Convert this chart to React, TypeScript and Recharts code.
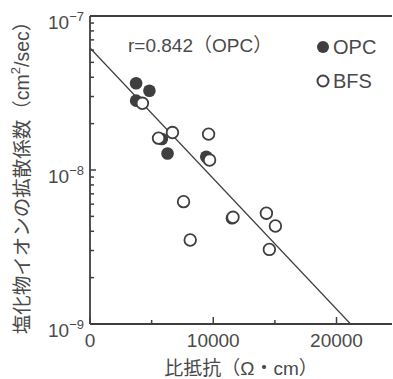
import { ScatterChart, Scatter, XAxis, YAxis, ReferenceLine, Legend } from "recharts"

// OPC (filled) and BFS (open) specimens: resistivity (Ω·cm) vs Cl- diffusion coefficient (cm²/sec)
const seriesNames = ["OPC", "BFS"]

const opcResistivity = [3740, 4820, 3740, 5830, 6290, 9430, 11520]
const opcDiffusion = [3.66e-8, 3.27e-8, 2.82e-8, 1.59e-8, 1.28e-8, 1.22e-8, 4.86e-9]

const bfsResistivity = [4250, 5560, 6690, 9620, 9700, 7590, 8130, 11600, 14310, 15040, 14550]
const bfsDiffusion = [2.71e-8, 1.61e-8, 1.75e-8, 1.71e-8, 1.16e-8, 6.23e-9, 3.51e-9, 4.93e-9, 5.24e-9, 4.33e-9, 3.05e-9]

// regression line (OPC), end points
const fitResistivity = [0, 21140]
const fitDiffusion = [6.2e-8, 1e-9]

const xTicks = [0, 5000, 10000, 15000, 20000]
const xLabelTicks = [0, 10000, 20000]
const yTicks = [
  1e-9, 2e-9, 3e-9, 4e-9, 5e-9, 6e-9, 7e-9, 8e-9, 9e-9,
  1e-8, 2e-8, 3e-8, 4e-8, 5e-8, 6e-8, 7e-8, 8e-8, 9e-8,
  1e-7,
]

const ink = "#3f3f3f"
const textInk = "#4a4a4a"
const font = "'Liberation Sans', Arial, 'Noto Sans CJK JP', sans-serif"

const opcData = opcResistivity.map((x, i) => ({ x, y: opcDiffusion[i] }))
const bfsData = bfsResistivity.map((x, i) => ({ x, y: bfsDiffusion[i] }))

const isDecade = (v: number) => Math.abs(Math.log10(v) - Math.round(Math.log10(v))) < 1e-6

const YTick = ({ x, y, payload }: any) => {
  const v = payload.value
  const major = isDecade(v)
  const exp = Math.round(Math.log10(v))
  return (
    <g>
      <line x1={x} x2={x + (major ? 6 : 4)} y1={y} y2={y} stroke={ink} strokeWidth={1.5} />
      {major && (
        <text x={x - 6} y={y + 13} textAnchor="end" fontSize={19} fill={textInk} fontFamily={font}>
          10<tspan dy={-8} fontSize={13}>{`−${-exp}`}</tspan>
        </text>
      )}
    </g>
  )
}

const XTick = ({ x, y, payload }: any) => {
  const major = xLabelTicks.includes(payload.value)
  return (
    <g>
      <line x1={x} x2={x} y1={y} y2={y - (major ? 7 : 4)} stroke={ink} strokeWidth={1.5} />
      {major && (
        <text x={x} y={y + 23} textAnchor="middle" fontSize={19} fill={textInk} fontFamily={font}>
          {payload.value}
        </text>
      )}
    </g>
  )
}

const YLabel = ({ viewBox }: any) => {
  const cx = viewBox.x + 22
  const cy = viewBox.y + viewBox.height / 2 + 3
  return (
    <text
      x={cx}
      y={cy}
      transform={`rotate(-90, ${cx}, ${cy})`}
      textAnchor="middle"
      dominantBaseline="central"
      fontSize={19.5}
      fill={textInk}
      fontFamily={font}
    >
      塩化物イオンの拡散係数（cm<tspan dy={-7} fontSize={13}>2</tspan><tspan dy={7}>/sec）</tspan>
    </text>
  )
}

const XLabel = ({ viewBox }: any) => (
  <text
    x={viewBox.x + viewBox.width / 2}
    y={viewBox.y + 44}
    textAnchor="middle"
    dominantBaseline="central"
    fontSize={19}
    fill={textInk}
    fontFamily={font}
  >
    比抵抗（Ω・cm）
  </text>
)

const LegendBox = ({ payload }: any) => {
  const entries = [...(payload || [])].sort(
    (a: any, b: any) => seriesNames.indexOf(a.value) - seriesNames.indexOf(b.value)
  )
  return (
    <div style={{ fontFamily: font, fontSize: 20, color: textInk }}>
      {entries.map((entry: any) => (
        <div key={entry.value} style={{ display: "flex", alignItems: "center", height: 34 }}>
          <svg width={14} height={14} style={{ marginRight: 3 }}>
            {entry.value === "OPC" ? (
              <circle cx={7} cy={7} r={6} fill={ink} />
            ) : (
              <circle cx={7} cy={7} r={5.5} fill="#fff" stroke={ink} strokeWidth={2} />
            )}
          </svg>
          <span>{entry.value}</span>
        </div>
      ))}
    </div>
  )
}

export default function App() {
  return (
    <div style={{ position: "absolute", left: 0, top: 0, width: 393, height: 379, background: "#fff" }}>
      <ScatterChart
        width={393}
        height={379}
        margin={{ top: 16, right: 1, bottom: 0, left: 0 }}
        style={{ fontFamily: font }}
      >
        <XAxis
          type="number"
          dataKey="x"
          domain={[0, 24500]}
          ticks={xTicks}
          interval={0}
          tickSize={0}
          tickMargin={0}
          tick={<XTick />}
          height={55}
          axisLine={{ stroke: ink, strokeWidth: 1.8 }}
          label={{ content: <XLabel /> }}
        />
        <YAxis
          type="number"
          dataKey="y"
          scale="log"
          domain={[1e-9, 1e-7]}
          ticks={yTicks}
          interval={0}
          tickSize={0}
          tickMargin={0}
          tick={<YTick />}
          width={90}
          axisLine={{ stroke: ink, strokeWidth: 1.8 }}
          label={{ content: <YLabel /> }}
        />
        <ReferenceLine y={1e-7} stroke={ink} strokeWidth={1.8} />
        <Scatter
          name={seriesNames[0]}
          data={opcData}
          isAnimationActive={false}
          shape={(p: any) => <circle cx={p.cx} cy={p.cy} r={6.3} fill={ink} />}
        />
        <Scatter
          name={seriesNames[1]}
          data={bfsData}
          isAnimationActive={false}
          shape={(p: any) => <circle cx={p.cx} cy={p.cy} r={5.8} fill="#fff" stroke={ink} strokeWidth={1.8} />}
        />
        <ReferenceLine
          segment={[
            { x: fitResistivity[0], y: fitDiffusion[0] },
            { x: fitResistivity[1], y: fitDiffusion[1] },
          ]}
          stroke={ink}
          strokeWidth={1.2}
        />
        <Legend
          layout="vertical"
          align="center"
          verticalAlign="middle"
          content={<LegendBox />}
          wrapperStyle={{ left: 316, top: 30, width: 77, height: 68 }}
        />
      </ScatterChart>
      <div
        style={{
          position: "absolute",
          left: 128,
          top: 36,
          fontFamily: font,
          fontSize: 19,
          lineHeight: "19px",
          color: textInk,
          whiteSpace: "nowrap",
        }}
      >
        r=0.842（OPC）
      </div>
    </div>
  )
}
